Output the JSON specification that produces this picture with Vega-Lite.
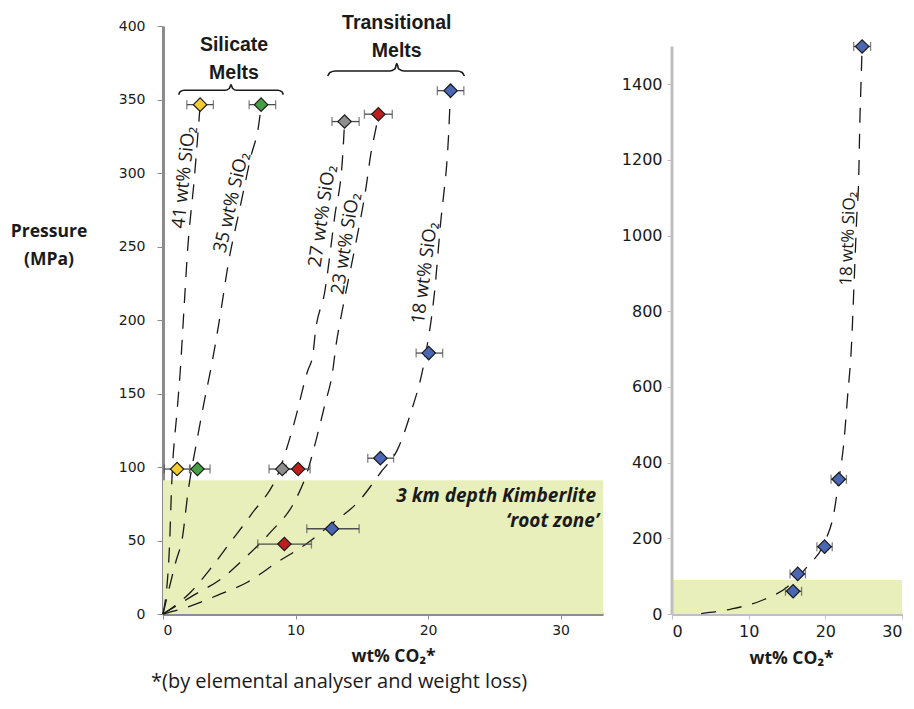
{
  "$schema": "https://vega.github.io/schema/vega-lite/v6.json",
  "padding": {"left": 10, "top": 12, "right": 2, "bottom": 5},
  "background": "white",
  "spacing": 18,
  "config": {
    "view": {"stroke": null},
    "axis": {"grid": false, "labelFont": "DejaVu Sans", "labelColor": "#1a1a1a", "titleColor": "#1a1a1a"}
  },
  "datasets": {
    "curves": [
      {"s": "41", "x": 0, "p": 0}, {"s": "41", "x": 0.48, "p": 44}, {"s": "41", "x": 0.65, "p": 87}, {"s": "41", "x": 1.1, "p": 142}, {"s": "41", "x": 1.3, "p": 165}, {"s": "41", "x": 1.6, "p": 210}, {"s": "41", "x": 1.86, "p": 248}, {"s": "41", "x": 2.35, "p": 295}, {"s": "41", "x": 2.8, "p": 346},
      {"s": "35", "x": 0, "p": 0}, {"s": "35", "x": 0.95, "p": 35}, {"s": "35", "x": 1.49, "p": 53.5}, {"s": "35", "x": 1.86, "p": 81}, {"s": "35", "x": 2.6, "p": 120}, {"s": "35", "x": 3.1, "p": 144}, {"s": "35", "x": 3.7, "p": 171}, {"s": "35", "x": 4.4, "p": 208}, {"s": "35", "x": 4.9, "p": 237}, {"s": "35", "x": 5.8, "p": 276}, {"s": "35", "x": 6.6, "p": 310}, {"s": "35", "x": 7.3, "p": 338}, {"s": "35", "x": 7.4, "p": 346},
      {"s": "27", "x": 0, "p": 0}, {"s": "27", "x": 2.1, "p": 15}, {"s": "27", "x": 3.6, "p": 31}, {"s": "27", "x": 5.1, "p": 49}, {"s": "27", "x": 6.6, "p": 67}, {"s": "27", "x": 8.75, "p": 97}, {"s": "27", "x": 9.9, "p": 130}, {"s": "27", "x": 10.9, "p": 165}, {"s": "27", "x": 11.3, "p": 176}, {"s": "27", "x": 11.5, "p": 192}, {"s": "27", "x": 12.2, "p": 219}, {"s": "27", "x": 12.95, "p": 270}, {"s": "27", "x": 13.56, "p": 312}, {"s": "27", "x": 13.7, "p": 335},
      {"s": "23", "x": 0, "p": 0}, {"s": "23", "x": 2.35, "p": 13}, {"s": "23", "x": 4.4, "p": 24}, {"s": "23", "x": 6.4, "p": 40}, {"s": "23", "x": 8.15, "p": 56}, {"s": "23", "x": 9.9, "p": 76}, {"s": "23", "x": 10.9, "p": 97}, {"s": "23", "x": 11.6, "p": 120}, {"s": "23", "x": 12.2, "p": 142}, {"s": "23", "x": 12.8, "p": 165}, {"s": "23", "x": 13.06, "p": 183}, {"s": "23", "x": 13.56, "p": 208}, {"s": "23", "x": 14.5, "p": 250}, {"s": "23", "x": 15.3, "p": 289}, {"s": "23", "x": 15.7, "p": 314}, {"s": "23", "x": 16.1, "p": 332}, {"s": "23", "x": 16.25, "p": 340},
      {"s": "18", "x": 0, "p": 0}, {"s": "18", "x": 1.9, "p": 4.8}, {"s": "18", "x": 4.1, "p": 12.7}, {"s": "18", "x": 6.4, "p": 21.8}, {"s": "18", "x": 8.65, "p": 35.4}, {"s": "18", "x": 10.7, "p": 47}, {"s": "18", "x": 12.9, "p": 62.6}, {"s": "18", "x": 14.7, "p": 76}, {"s": "18", "x": 16.45, "p": 96.6}, {"s": "18", "x": 17.7, "p": 112}, {"s": "18", "x": 18.7, "p": 137}, {"s": "18", "x": 19.7, "p": 171}, {"s": "18", "x": 20.5, "p": 220}, {"s": "18", "x": 20.98, "p": 269}, {"s": "18", "x": 21.2, "p": 287}, {"s": "18", "x": 21.4, "p": 305}, {"s": "18", "x": 21.55, "p": 326}, {"s": "18", "x": 21.65, "p": 346}, {"s": "18", "x": 21.72, "p": 356}
    ],
    "points": [
      {"s": "41", "x": 2.8, "p": 346.5, "lo": 1.8, "hi": 3.8},
      {"s": "41", "x": 1.06, "p": 98.6, "lo": 0.1, "hi": 2.0},
      {"s": "35", "x": 7.4, "p": 346.5, "lo": 6.5, "hi": 8.5},
      {"s": "35", "x": 2.6, "p": 98.6, "lo": 2.05, "hi": 3.55},
      {"s": "27", "x": 13.7, "p": 335, "lo": 12.75, "hi": 14.8},
      {"s": "27", "x": 9.0, "p": 98.6, "lo": 8.0, "hi": 10.0},
      {"s": "23", "x": 16.25, "p": 340, "lo": 15.2, "hi": 17.3},
      {"s": "23", "x": 10.2, "p": 98.6, "lo": 9.3, "hi": 11.1},
      {"s": "23", "x": 9.16, "p": 47.6, "lo": 7.15, "hi": 11.2},
      {"s": "18", "x": 21.7, "p": 356, "lo": 20.7, "hi": 22.7},
      {"s": "18", "x": 20.05, "p": 177.5, "lo": 19.1, "hi": 21.1},
      {"s": "18", "x": 16.4, "p": 106, "lo": 15.45, "hi": 17.4},
      {"s": "18", "x": 12.75, "p": 58, "lo": 10.85, "hi": 14.8}
    ],
    "braces": [
      {"g": "sil", "x": 1.18, "p": 353.3}, {"g": "sil", "x": 1.3, "p": 355.3}, {"g": "sil", "x": 1.6, "p": 356.3}, {"g": "sil", "x": 4.7, "p": 356.3}, {"g": "sil", "x": 5.0, "p": 357.5}, {"g": "sil", "x": 5.13, "p": 360}, {"g": "sil", "x": 5.26, "p": 357.5}, {"g": "sil", "x": 5.56, "p": 356.3}, {"g": "sil", "x": 8.66, "p": 356.3}, {"g": "sil", "x": 8.96, "p": 355.3}, {"g": "sil", "x": 9.08, "p": 353.3},
      {"g": "tra", "x": 12.43, "p": 366}, {"g": "tra", "x": 12.6, "p": 368.4}, {"g": "tra", "x": 13.0, "p": 369.4}, {"g": "tra", "x": 17.1, "p": 369.4}, {"g": "tra", "x": 17.5, "p": 370.8}, {"g": "tra", "x": 17.64, "p": 374.4}, {"g": "tra", "x": 17.78, "p": 370.8}, {"g": "tra", "x": 18.2, "p": 369.4}, {"g": "tra", "x": 22.2, "p": 369.4}, {"g": "tra", "x": 22.57, "p": 368.4}, {"g": "tra", "x": 22.74, "p": 366}
    ],
    "rcurve": [
      {"x": 3.8, "p": 1}, {"x": 7.7, "p": 13}, {"x": 11.6, "p": 35}, {"x": 15.0, "p": 71}, {"x": 17.6, "p": 124}, {"x": 20.0, "p": 194}, {"x": 21.1, "p": 265}, {"x": 21.75, "p": 353}, {"x": 22.4, "p": 450}, {"x": 22.9, "p": 574}, {"x": 23.4, "p": 706}, {"x": 23.8, "p": 900}, {"x": 24.1, "p": 1050}, {"x": 24.36, "p": 1158}, {"x": 24.5, "p": 1300}, {"x": 24.65, "p": 1400}, {"x": 24.8, "p": 1500}
    ],
    "rpoints": [
      {"x": 15.8, "p": 60, "lo": 14.8, "hi": 16.9},
      {"x": 16.4, "p": 106, "lo": 15.4, "hi": 17.4},
      {"x": 19.9, "p": 178, "lo": 18.9, "hi": 20.9},
      {"x": 21.75, "p": 356, "lo": 20.75, "hi": 22.75},
      {"x": 24.8, "p": 1500, "lo": 23.7, "hi": 25.9}
    ]
  },
  "hconcat": [
    {
      "width": 440,
      "height": 588,
      "title": {"text": "*(by elemental analyser and weight loss)", "orient": "bottom", "anchor": "start", "frame": "group", "dx": -12, "offset": 7, "fontSize": 20, "fontWeight": "normal", "font": "Open Sans", "color": "#1a1a1a"},
      "encoding": {
        "x": {"type": "quantitative", "scale": {"domain": [0, 33.2], "nice": false, "zero": false},
          "axis": {"values": [0, 10, 20, 30], "domainColor": "#8c8c8c", "domainWidth": 3, "tickColor": "#8c8c8c", "tickSize": 5, "labelPadding": 4, "labelFontSize": 14, "title": "wt% CO₂*", "titleX": 230, "titleFont": "Open Sans", "titleFontSize": 17.5, "titleFontWeight": "bold", "titlePadding": 10}},
        "y": {"type": "quantitative", "scale": {"domain": [0, 400], "nice": false},
          "axis": {"values": [0, 50, 100, 150, 200, 250, 300, 350, 400], "domainColor": "#8c8c8c", "domainWidth": 3, "tickColor": "#8c8c8c", "tickSize": 6, "labelPadding": 12, "labelFontSize": 14,
            "title": ["Pressure", "(MPa)"], "titleAngle": 0, "titleAlign": "center", "titleBaseline": "alphabetic", "titleX": -114.5, "titleY": 210, "titleFont": "Open Sans", "titleFontWeight": "bold", "titleFontSize": 17.5, "titleLineHeight": 28}}
      },
      "layer": [
        {"data": {"values": [{}]},
          "mark": {"type": "rect", "color": "#e8efbb"},
          "encoding": {"x": {"datum": 0}, "x2": {"datum": 33.2}, "y": {"datum": 0}, "y2": {"datum": 91}}},
        {"data": {"name": "curves"},
          "mark": {"type": "line", "color": "#1a1a1a", "strokeWidth": 1.3, "strokeDash": [15, 11], "interpolate": "monotone"},
          "encoding": {"x": {"field": "x"}, "y": {"field": "p"}, "detail": {"field": "s"}, "order": {"field": "p"}}},
        {"data": {"name": "points"},
          "mark": {"type": "errorbar", "ticks": true, "color": "#4d4d4d", "thickness": 1.3, "size": 9},
          "encoding": {"x": {"field": "lo", "type": "quantitative"}, "x2": {"field": "hi"}, "y": {"field": "p", "type": "quantitative"}}},
        {"data": {"name": "points"},
          "mark": {"type": "point", "shape": "diamond", "filled": true, "size": 180, "stroke": "#1a1a1a", "strokeWidth": 1.2, "opacity": 1},
          "encoding": {"x": {"field": "x"}, "y": {"field": "p"},
            "fill": {"field": "s", "type": "nominal", "scale": {"domain": ["41", "35", "27", "23", "18"], "range": ["#f2cc30", "#45a044", "#8e8e8e", "#bf1e1e", "#4b66b5"]}, "legend": null}}},
        {"data": {"name": "braces"},
          "mark": {"type": "line", "color": "#1a1a1a", "strokeWidth": 1.6, "interpolate": "monotone"},
          "encoding": {"x": {"field": "x"}, "y": {"field": "p"}, "detail": {"field": "g"}}},
        {"data": {"values": [{"x": 5.36, "p": 387.1, "t": "Silicate\nMelts"}, {"x": 17.64, "p": 402.2, "t": "Transitional\nMelts"}]},
          "mark": {"type": "text", "font": "Liberation Sans", "fontWeight": "bold", "fontSize": 19.5, "lineBreak": "\n", "lineHeight": 28, "align": "center", "baseline": "middle", "color": "#1a1a1a"},
          "encoding": {"x": {"field": "x"}, "y": {"field": "p"}, "text": {"field": "t"}}},
        {"data": {"values": [{"x": 32.68, "p": 80.4, "t": "3 km depth Kimberlite"}, {"x": 32.9, "p": 63.6, "t": "‘root zone’"}]},
          "mark": {"type": "text", "font": "Open Sans", "fontWeight": "bold", "fontStyle": "italic", "fontSize": 19, "align": "right", "baseline": "middle", "color": "#1a1a1a"},
          "encoding": {"x": {"field": "x"}, "y": {"field": "p"}, "text": {"field": "t"}}},
        {"data": {"values": [{"x": 1.55, "p": 297, "t": "41 wt% SiO₂"}]},
          "mark": {"type": "text", "font": "Open Sans", "fontSize": 18.5, "angle": -84, "align": "center", "baseline": "middle", "color": "#1a1a1a"},
          "encoding": {"x": {"field": "x"}, "y": {"field": "p"}, "text": {"field": "t"}}},
        {"data": {"values": [{"x": 5.13, "p": 280, "t": "35 wt% SiO₂"}]},
          "mark": {"type": "text", "font": "Open Sans", "fontSize": 18.5, "angle": -77, "align": "center", "baseline": "middle", "color": "#1a1a1a"},
          "encoding": {"x": {"field": "x"}, "y": {"field": "p"}, "text": {"field": "t"}}},
        {"data": {"values": [{"x": 11.99, "p": 270.7, "t": "27 wt% SiO₂"}]},
          "mark": {"type": "text", "font": "Open Sans", "fontSize": 18.5, "angle": -81.7, "align": "center", "baseline": "middle", "color": "#1a1a1a"},
          "encoding": {"x": {"field": "x"}, "y": {"field": "p"}, "text": {"field": "t"}}},
        {"data": {"values": [{"x": 13.75, "p": 252, "t": "23 wt% SiO₂"}]},
          "mark": {"type": "text", "font": "Open Sans", "fontSize": 18.5, "angle": -81, "align": "center", "baseline": "middle", "color": "#1a1a1a"},
          "encoding": {"x": {"field": "x"}, "y": {"field": "p"}, "text": {"field": "t"}}},
        {"data": {"values": [{"x": 19.72, "p": 232, "t": "18 wt% SiO₂"}]},
          "mark": {"type": "text", "font": "Open Sans", "fontSize": 18.5, "angle": -82.6, "align": "center", "baseline": "middle", "color": "#1a1a1a"},
          "encoding": {"x": {"field": "x"}, "y": {"field": "p"}, "text": {"field": "t"}}}
      ]
    },
    {
      "width": 230,
      "height": 588,
      "encoding": {
        "x": {"type": "quantitative", "scale": {"domain": [0, 30], "nice": false},
          "axis": {"values": [0, 10, 20, 30], "domainColor": "#bfbfbf", "domainWidth": 3, "tickColor": "#bfbfbf", "tickSize": 5, "labelPadding": 4, "labelFontSize": 16, "title": "wt% CO₂*", "titleX": 119, "titleFont": "Open Sans", "titleFontSize": 17.5, "titleFontWeight": "bold", "titlePadding": 10}},
        "y": {"type": "quantitative", "scale": {"domain": [0, 1554], "nice": false},
          "axis": {"values": [0, 200, 400, 600, 800, 1000, 1200, 1400], "format": "d", "domain": false, "tickColor": "#bfbfbf", "tickSize": 5, "labelPadding": 5, "labelFontSize": 16, "title": null}}
      },
      "layer": [
        {"data": {"values": [{}]},
          "mark": {"type": "rect", "color": "#e8efbb"},
          "encoding": {"x": {"datum": 0}, "x2": {"datum": 30}, "y": {"datum": 0}, "y2": {"datum": 90}}},
        {"data": {"values": [{}]},
          "mark": {"type": "rule", "color": "#bfbfbf", "strokeWidth": 3},
          "encoding": {"x": {"datum": 0}, "y": {"datum": 0}, "y2": {"datum": 1500}}},
        {"data": {"name": "rcurve"},
          "mark": {"type": "line", "color": "#1a1a1a", "strokeWidth": 1.3, "strokeDash": [15, 11], "interpolate": "monotone"},
          "encoding": {"x": {"field": "x"}, "y": {"field": "p"}, "order": {"field": "p"}}},
        {"data": {"name": "rpoints"},
          "mark": {"type": "errorbar", "ticks": true, "color": "#4d4d4d", "thickness": 1.3, "size": 9},
          "encoding": {"x": {"field": "lo", "type": "quantitative"}, "x2": {"field": "hi"}, "y": {"field": "p", "type": "quantitative"}}},
        {"data": {"name": "rpoints"},
          "mark": {"type": "point", "shape": "diamond", "filled": true, "size": 180, "fill": "#4b66b5", "stroke": "#1a1a1a", "strokeWidth": 1.2, "opacity": 1},
          "encoding": {"x": {"field": "x"}, "y": {"field": "p"}}},
        {"data": {"values": [{"x": 23.0, "p": 992, "t": "18 wt% SiO₂"}]},
          "mark": {"type": "text", "font": "Open Sans", "fontSize": 17, "angle": -87.6, "align": "center", "baseline": "middle", "color": "#1a1a1a"},
          "encoding": {"x": {"field": "x"}, "y": {"field": "p"}, "text": {"field": "t"}}}
      ]
    }
  ]
}
